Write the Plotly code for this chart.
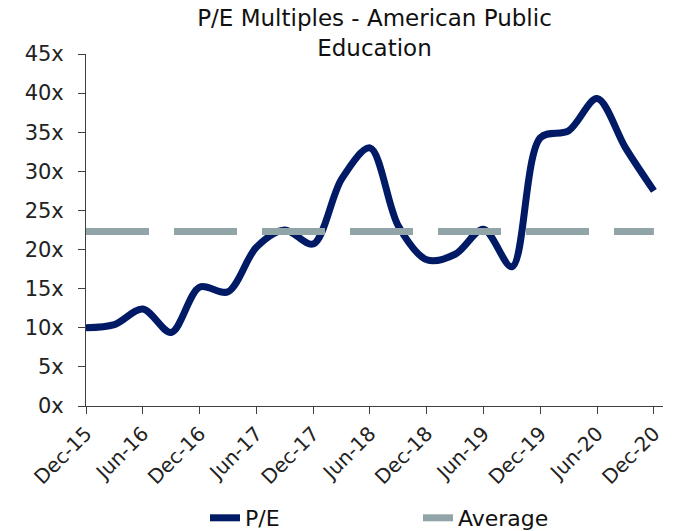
import plotly.graph_objects as go

quarters = ["Dec-15", "Mar-16", "Jun-16", "Sep-16", "Dec-16", "Mar-17", "Jun-17",
            "Sep-17", "Dec-17", "Mar-18", "Jun-18", "Sep-18", "Dec-18", "Mar-19",
            "Jun-19", "Sep-19", "Dec-19", "Mar-20", "Jun-20", "Sep-20", "Dec-20"]
pe = [10.0, 10.4, 12.4, 9.4, 15.2, 14.6, 20.3, 22.5, 20.7, 29.0, 33.0,
      23.0, 18.7, 19.4, 22.6, 17.8, 34.3, 35.2, 39.3, 33.0, 27.5]
average = 22.3
tick_labels = quarters[::2]
y_ticks = [0, 5, 10, 15, 20, 25, 30, 35, 40, 45]

FONT = "DejaVu Sans"
navy = "#001A66"
gray = "#91A5A8"

# page body has an 8px margin; size the figure to fit the window
W, H = 677, 523

fig = go.Figure()
fig.add_trace(go.Scatter(
    x=quarters, y=pe, mode="lines", name="P/E",
    line=dict(color=navy, width=7, shape="spline", smoothing=0.9),
))
fig.add_trace(go.Scatter(
    x=quarters, y=[average] * len(quarters), mode="lines", name="Average",
    line=dict(color=gray, width=7, dash="63px,25px"),
))

fig.update_layout(
    width=W, height=H,
    margin=dict(l=78, r=22, t=46, b=125),
    paper_bgcolor="white", plot_bgcolor="white",
    font=dict(family=FONT, size=20, color="#222222"),
    title=dict(text="P/E Multiples - American Public<br>Education",
               x=0.5, xref="paper", xanchor="center",
               y=1 - 18 / H, yref="container", yanchor="top",
               font=dict(family=FONT, size=23, color="#111111")),
    showlegend=True,
    legend=dict(orientation="h", x=(197 - 78) / 577, xanchor="left",
                y=(H - 510) / H, yref="container", yanchor="middle",
                font=dict(family=FONT, size=22, color="#111111"),
                entrywidth=168, entrywidthmode="pixels", bgcolor="rgba(0,0,0,0)"),
)
fig.update_xaxes(
    type="category", range=[0, 20.32], automargin=False,
    tickmode="array", tickvals=tick_labels, ticktext=tick_labels,
    tickangle=-45, ticks="outside", ticklen=7, tickcolor="#404040",
    showline=True, linecolor="#404040", linewidth=1,
    showgrid=False, zeroline=False,
    tickfont=dict(family=FONT, size=20, color="#222222"),
)
fig.update_yaxes(
    range=[0, 45], automargin=False, tickmode="array", tickvals=y_ticks,
    ticktext=[f"{v}x" for v in y_ticks],
    ticks="outside", ticklen=7, tickcolor="#404040", ticklabelstandoff=10,
    showline=True, linecolor="#404040", linewidth=1,
    showgrid=False, zeroline=False,
    tickfont=dict(family=FONT, size=21, color="#222222"),
)

fig.write_html("out.html")
